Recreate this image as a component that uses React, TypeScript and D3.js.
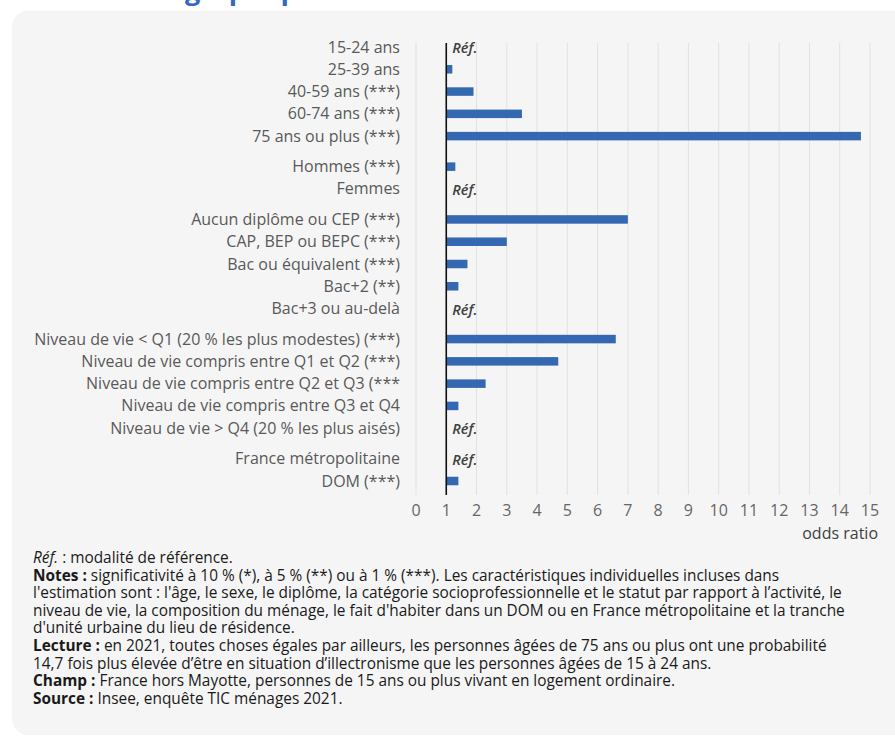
import React from "react";
import * as d3 from "d3";

const categories = [
  "15-24 ans",
  "25-39 ans",
  "40-59 ans (***)",
  "60-74 ans (***)",
  "75 ans ou plus (***)",
  "Hommes (***)",
  "Femmes",
  "Aucun diplôme ou CEP (***)",
  "CAP, BEP ou BEPC (***)",
  "Bac ou équivalent (***)",
  "Bac+2 (**)",
  "Bac+3 ou au-delà",
  "Niveau de vie < Q1 (20 % les plus modestes) (***)",
  "Niveau de vie compris entre Q1 et Q2 (***)",
  "Niveau de vie compris entre Q2 et Q3 (***",
  "Niveau de vie compris entre Q3 et Q4",
  "Niveau de vie > Q4 (20 % les plus aisés)",
  "France métropolitaine",
  "DOM (***)",
];
// null = modalité de référence
const oddsRatios: (number | null)[] = [
  null, 1.2, 1.9, 3.5, 14.7,
  1.3, null,
  7.0, 3.0, 1.7, 1.4, null,
  6.6, 4.7, 2.3, 1.4, null,
  null, 1.4,
];
const groups = [0, 0, 0, 0, 0, 1, 1, 2, 2, 2, 2, 2, 3, 3, 3, 3, 3, 4, 4];
const xTicks = [0, 1, 2, 3, 4, 5, 6, 7, 8, 9, 10, 11, 12, 13, 14, 15];
const refValue = 1;

const W = 895;
const H = 742;
const FONT = "'Open Sans', 'Noto Sans', sans-serif";

export default function App() {
  const x = d3.scaleLinear().domain([0, 15]).range([416, 870]);
  const gapFrac = 0.37;
  const pos = categories.map((_, i) => i + groups[i] * gapFrac);
  const y = d3
    .scaleLinear()
    .domain([0, d3.max(pos) as number])
    .range([47, 481]);
  const barH = 8.5;
  const gridTop = 43;
  const gridBottom = 495;

  const noteX = 33;
  const lh = 17.6;
  const noteY0 = 563;
  const noteSize = 15.4;

  return (
    <div>
      <style>{`body{margin:0;background:#fff}`}</style>
      <svg width={W} height={H} style={{ display: "block" }} fontFamily={FONT}>
        <rect x={0} y={0} width={W} height={H} fill="#fff" />
        <text x={336} y={0} textAnchor="end" fontSize={27} fontWeight={700} fill="#3369c4">
          Facteurs sociodémographiques
        </text>
        <rect x={12} y={10.5} width={W + 40} height={724.5} rx={16} fill="#f5f5f5" />

        {/* gridlines */}
        {xTicks.map((t) => (
          <line
            key={"g" + t}
            x1={x(t)}
            x2={x(t)}
            y1={gridTop}
            y2={gridBottom}
            stroke="#e1e1e1"
            strokeWidth={1}
          />
        ))}

        {/* bars */}
        {oddsRatios.map((v, i) =>
          v === null ? (
            <text
              key={"r" + i}
              x={x(refValue) + 6}
              y={y(pos[i]) + 6}
              fontSize={14.5}
              fontStyle="italic"
              fontWeight={600}
              fill="#404040"
            >
              Réf.
            </text>
          ) : (
            <rect
              key={"b" + i}
              x={x(refValue)}
              y={y(pos[i]) - barH / 2}
              width={x(v) - x(refValue)}
              height={barH}
              fill="#3468b1"
            />
          )
        )}

        {/* reference line */}
        <line
          x1={x(refValue)}
          x2={x(refValue)}
          y1={gridTop}
          y2={gridBottom}
          stroke="#111"
          strokeWidth={1.6}
        />

        {/* category labels */}
        {categories.map((c, i) => (
          <text
            key={"c" + i}
            x={400}
            y={y(pos[i]) + 5.5}
            textAnchor="end"
            fontSize={16}
            fill="#595959"
          >
            {c}
          </text>
        ))}

        {/* x tick labels */}
        {xTicks.map((t) => (
          <text
            key={"t" + t}
            x={x(t)}
            y={516}
            textAnchor="middle"
            fontSize={16}
            fill="#666"
          >
            {t}
          </text>
        ))}
        <text x={878} y={539} textAnchor="end" fontSize={16} fill="#404040">
          odds ratio
        </text>

        {/* notes */}
        <g fontSize={noteSize} fill="#1a1a1a">
          <text x={noteX} y={noteY0}>
            <tspan fontStyle="italic">Réf.</tspan> : modalité de référence.
          </text>
          <text x={noteX} y={noteY0 + lh}>
            <tspan fontWeight={700}>Notes :</tspan> significativité à 10 % (*), à 5 % (**) ou à 1 % (***). Les caractéristiques individuelles incluses dans
          </text>
          <text x={noteX} y={noteY0 + 2 * lh}>
            l'estimation sont : l'âge, le sexe, le diplôme, la catégorie socioprofessionnelle et le statut par rapport à l’activité, le
          </text>
          <text x={noteX} y={noteY0 + 3 * lh}>
            niveau de vie, la composition du ménage, le fait d'habiter dans un DOM ou en France métropolitaine et la tranche
          </text>
          <text x={noteX} y={noteY0 + 4 * lh}>
            d'unité urbaine du lieu de résidence.
          </text>
          <text x={noteX} y={noteY0 + 5 * lh}>
            <tspan fontWeight={700}>Lecture :</tspan> en 2021, toutes choses égales par ailleurs, les personnes âgées de 75 ans ou plus ont une probabilité
          </text>
          <text x={noteX} y={noteY0 + 6 * lh}>
            14,7 fois plus élevée d’être en situation d’illectronisme que les personnes âgées de 15 à 24 ans.
          </text>
          <text x={noteX} y={noteY0 + 7 * lh}>
            <tspan fontWeight={700}>Champ :</tspan> France hors Mayotte, personnes de 15 ans ou plus vivant en logement ordinaire.
          </text>
          <text x={noteX} y={noteY0 + 8 * lh}>
            <tspan fontWeight={700}>Source :</tspan> Insee, enquête TIC ménages 2021.
          </text>
        </g>
      </svg>
    </div>
  );
}
